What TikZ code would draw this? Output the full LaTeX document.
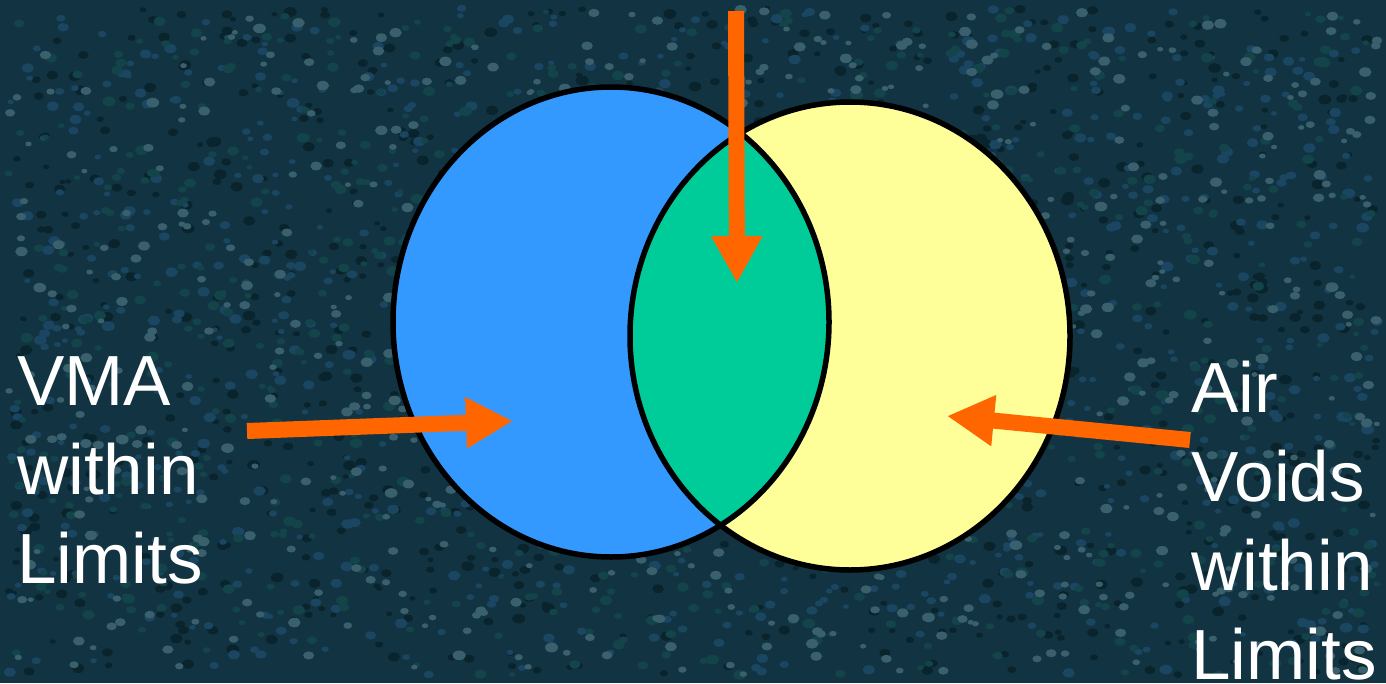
\documentclass[tikz,border=0pt]{standalone}
\usepackage{fontspec}
\setmainfont{Liberation Sans}
\usetikzlibrary{arrows.meta}
\definecolor{bgcol}{RGB}{18,52,66}
\definecolor{speckI}{RGB}{26,70,98}
\definecolor{speckII}{RGB}{58,96,110}
\definecolor{speckIII}{RGB}{9,36,44}
\definecolor{speckIV}{RGB}{18,68,74}
\definecolor{vblue}{RGB}{51,153,255}
\definecolor{vyellow}{RGB}{255,255,153}
\definecolor{vgreen}{RGB}{0,204,153}
\definecolor{vorange}{RGB}{255,102,0}
\tikzset{
  lbl/.style={text=white, font=\fontsize{71}{89}\selectfont, align=left, inner sep=0pt},
  outline/.style={draw=black, line width=5.5pt},
  pointer/.style={draw=vorange, line width=16pt, -{Triangle[length=47pt,width=48pt]}, fill=vorange}
}
\begin{document}
\begin{tikzpicture}[x=1pt,y=-1pt]
\useasboundingbox (0,0) rectangle (1386,683);
\begin{scope}
\clip (0,0) rectangle (1386,683);
\fill[bgcol] (0,0) rectangle (1386,683);
\pgfmathsetseed{11}
\foreach \c/\n in {speckIII/900,speckI/900,speckIV/700,speckII/700}{
  \foreach \i in {1,...,\n}{
    \pgfmathsetmacro\px{8+rnd*1370}
    \pgfmathsetmacro\py{8+rnd*667}
    \pgfmathsetmacro\pr{3+rnd*3.5}
    \fill[\c] (\px,\py) ellipse [x radius=\pr, y radius=0.75*\pr];
  }
}
\end{scope}
\def\blueE{(611,322) ellipse [x radius=218, y radius=235]}
\def\yellowE{(850,336) ellipse [x radius=220, y radius=234]}
\fill[vblue] \blueE;
\fill[vyellow] \yellowE;
\begin{scope}
  \clip \blueE;
  \fill[vgreen] \yellowE;
\end{scope}
\draw[outline] \blueE;
\draw[outline] \yellowE;
\node[lbl, anchor=north west] (vma) at (17,356) {VMA\\within\\Limits};
\node[lbl, anchor=north west] (air) at (1191,361) {Air\\Voids\\within\\Limits};
\coordinate (topStart) at (736,11);
\coordinate (topEnd) at (737,283);
\coordinate (leftStart) at (247,431);
\coordinate (leftEnd) at (513,421);
\coordinate (rightStart) at (1190,440);
\coordinate (rightEnd) at (947,416);
\draw[pointer] (topStart) -- (topEnd);
\draw[pointer] (leftStart) -- (leftEnd);
\draw[pointer] (rightStart) -- (rightEnd);
\end{tikzpicture}
\end{document}
